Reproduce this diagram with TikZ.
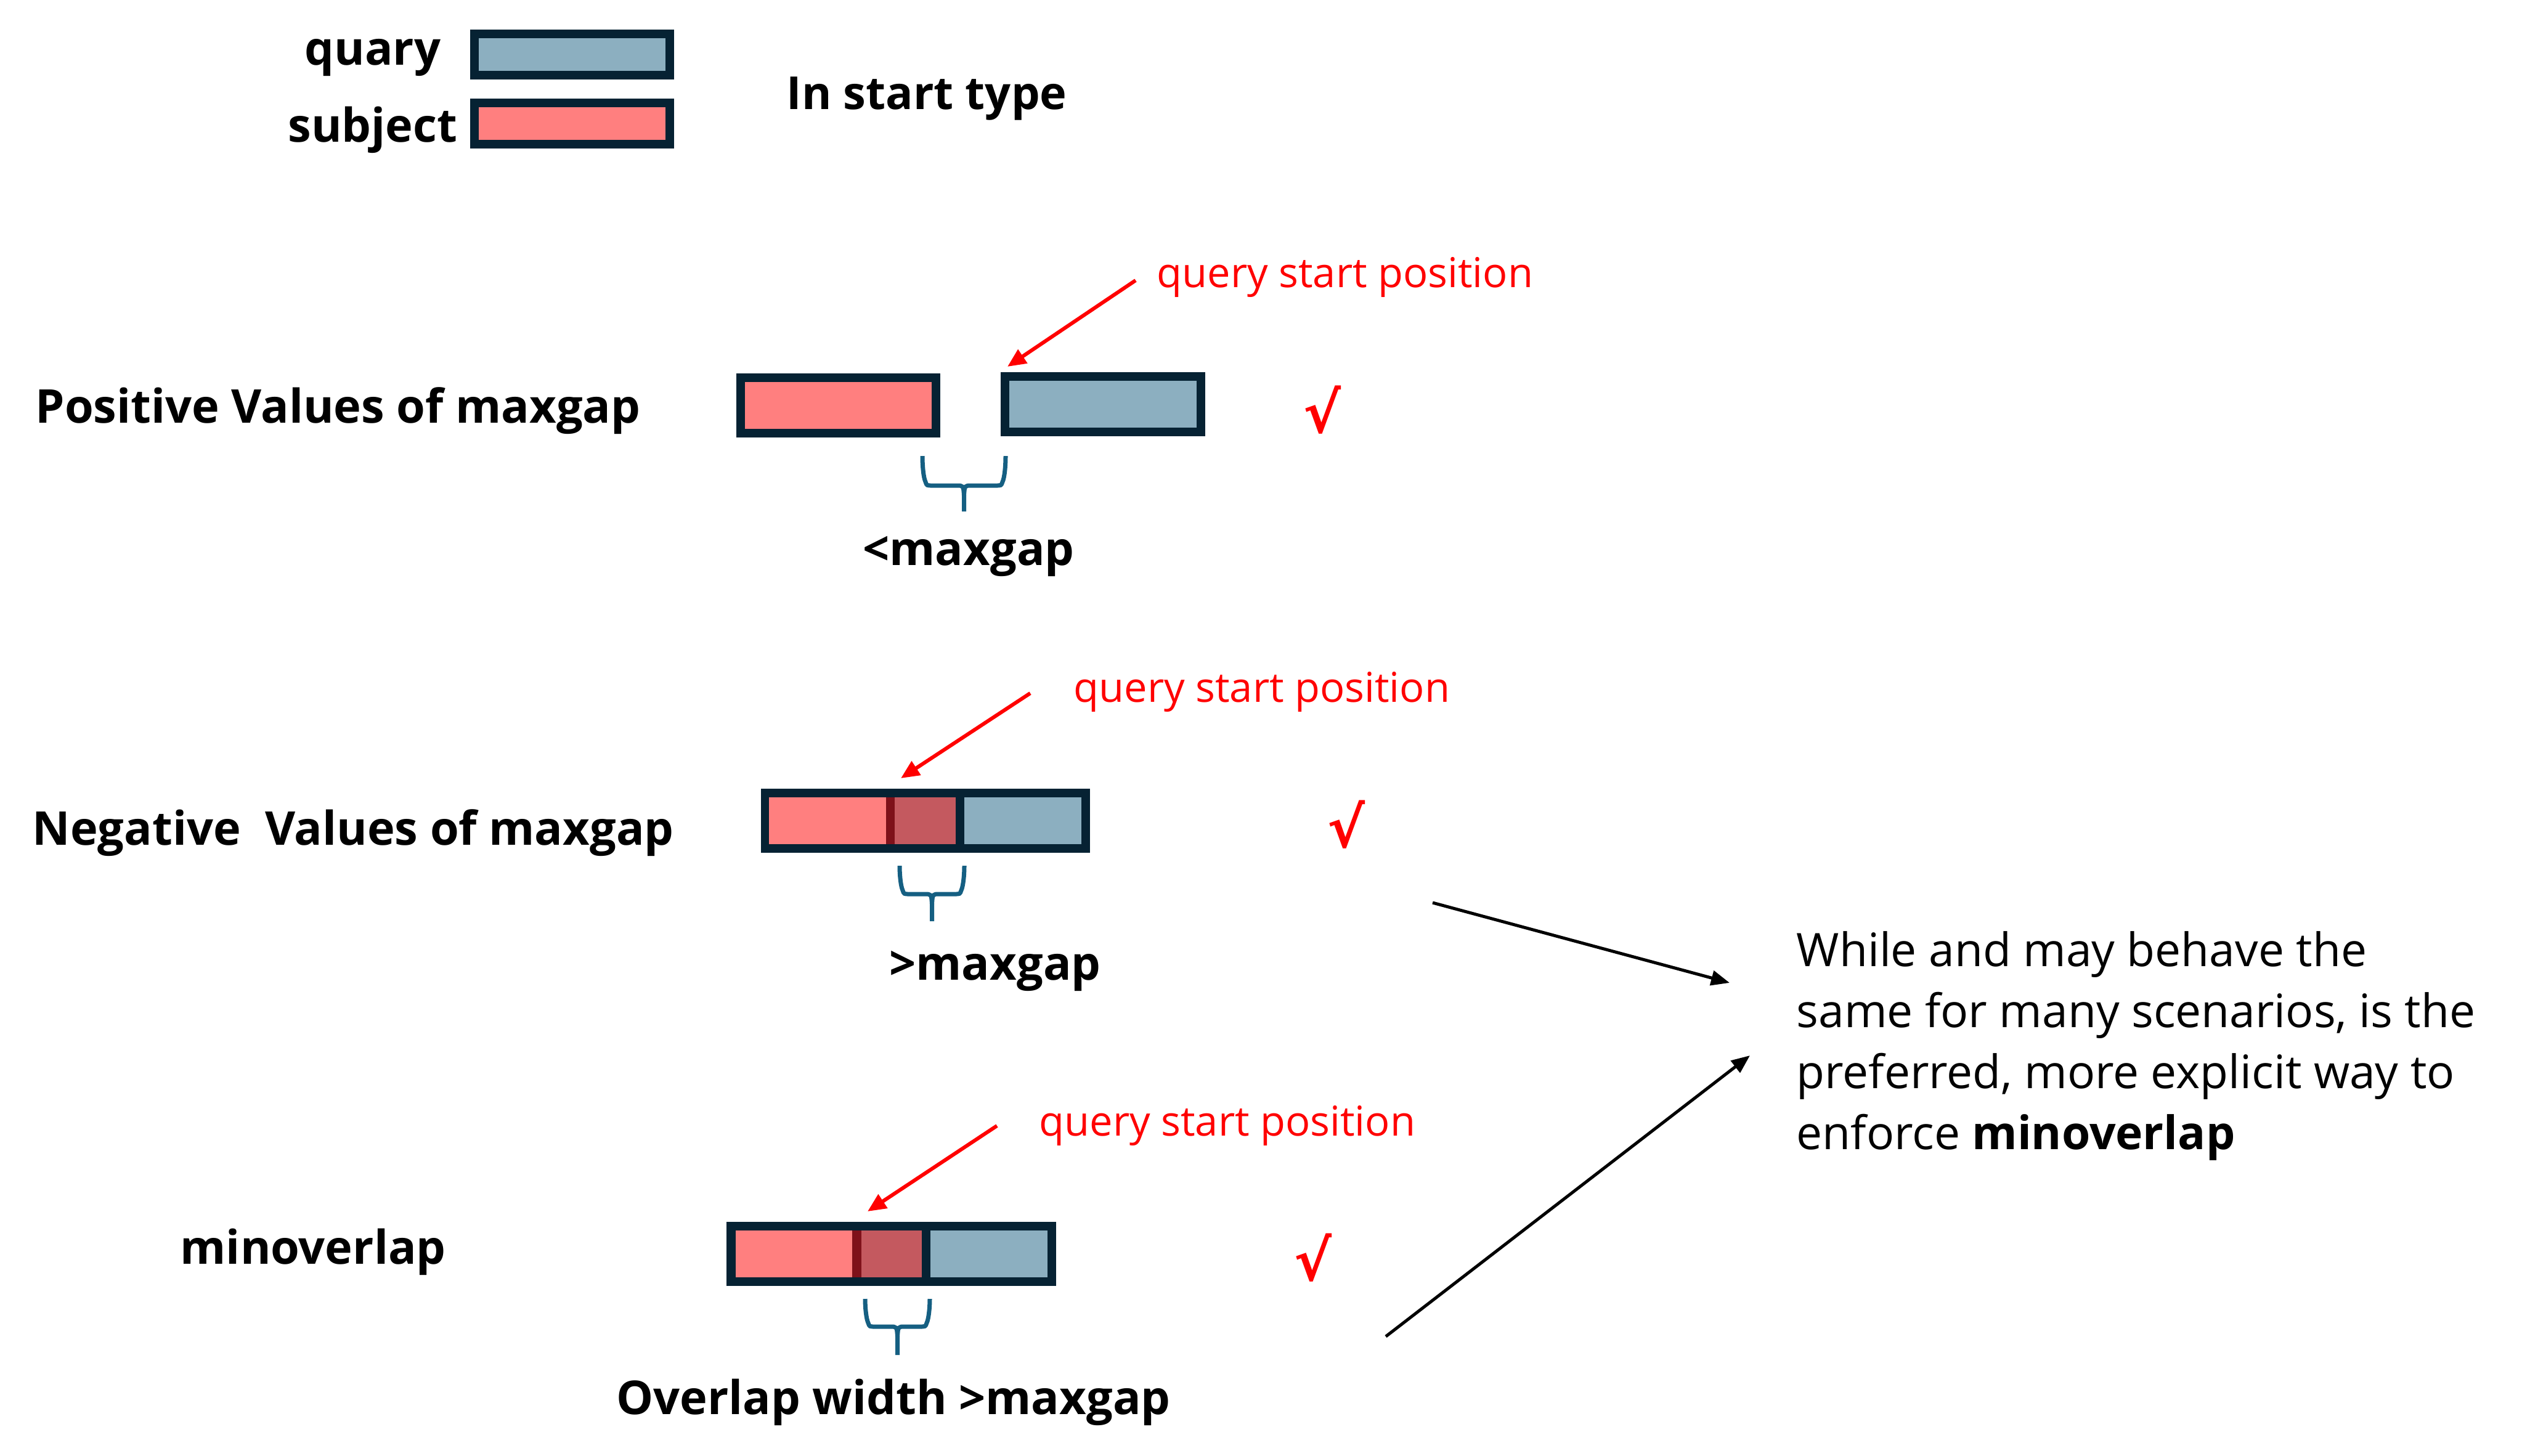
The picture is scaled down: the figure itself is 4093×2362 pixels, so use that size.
\documentclass[tikz,border=0pt]{standalone}
\usepackage{fontspec}
\setmainfont{Open Sans}
\newfontfamily\chkfont{DejaVu Sans}
\usetikzlibrary{arrows.meta}
\definecolor{bordc}{HTML}{062233}
\definecolor{subjc}{HTML}{FF7F7F}
\definecolor{quec}{HTML}{8CAFC0}
\definecolor{ovlc}{HTML}{C4595F}
\definecolor{ovlb}{HTML}{7F111A}
\definecolor{bracec}{HTML}{155F82}
\newcommand\mybrace[5]{%
  \draw[bracec, line width=0.07cm]
    ({#1},{#3}) .. controls ({#1},{#4-30}) and ({#1+2},{#4-12}) .. ({#1+5},{#4-6}) .. controls ({#1+7},{#4}) .. ({#1+16},{#4})
    -- ({(#1+#2)/2-12},{#4}) .. controls ({(#1+#2)/2-1},{#4}) .. ({(#1+#2)/2},{#4+16})
    -- ({(#1+#2)/2},{#5});
  \draw[bracec, line width=0.07cm]
    ({#2},{#3}) .. controls ({#2},{#4-30}) and ({#2-2},{#4-12}) .. ({#2-5},{#4-6}) .. controls ({#2-7},{#4}) .. ({#2-16},{#4})
    -- ({(#1+#2)/2+12},{#4}) .. controls ({(#1+#2)/2+1},{#4}) .. ({(#1+#2)/2},{#4+16});
}
\begin{document}
\begin{tikzpicture}[x=0.01cm,y=-0.01cm,
  bar/.style={draw=bordc, line width=0.14cm, inner sep=0pt, minimum width=3.17cm},
  lbl/.style={font=\fontsize{21.5}{26}\selectfont\bfseries, inner sep=0pt, anchor=base west},
  lblc/.style={font=\fontsize{21.5}{26}\selectfont\bfseries, inner sep=0pt, anchor=base},
  para/.style={font=\fontsize{21.3}{26}\selectfont, inner sep=0pt, anchor=base west},
  redtxt/.style={font=\fontsize{19}{23}\selectfont, text=red, inner sep=0pt, anchor=base west},
  chk/.style={font=\chkfont\bfseries\fontsize{26}{28}\selectfont, text=red, inner sep=0pt},
  redarr/.style={draw=red, line width=0.06cm, -{Triangle[length=0.3cm,width=0.26cm]}},
  blkarr/.style={draw=black, line width=0.05cm, -{Triangle[length=0.3cm,width=0.24cm]}}
]
\useasboundingbox (0,0) rectangle (4093,2362);

% legend
\node[lbl, anchor=base east] (lq) at (716,105) {quary};
\node[lbl, anchor=base east] (ls) at (743,230) {subject};
\node[bar, fill=quec, minimum height=0.67cm] (legq) at (928.5,88.5) {};
\node[bar, fill=subjc, minimum height=0.67cm] (legs) at (928.5,200.5) {};
\node[lbl, font=\fontsize{21}{26}\selectfont\bfseries] (title) at (1276,177) {In start type};

% row 1
\node[lbl] (r1lab) at (57,686) {Positive Values of maxgap};
\node[bar, fill=subjc, minimum height=0.90cm] (s1) at (1360.5,658) {};
\node[bar, fill=quec, minimum height=0.90cm] (q1) at (1790,656) {};
\node[redtxt] (qs1) at (1877,466) {query start position};
\coordinate (a1s) at (1843,455);
\coordinate (a1t) at (1635,595);
\draw[redarr] (a1s) -- (a1t);
\node[chk] (c1) at (2146,665) {√};
\mybrace{1497}{1632}{740}{788}{830}
\node[lblc] (g1) at (1572,917) {<maxgap};

% row 2
\node[lbl] (r2lab) at (52,1371) {Negative\ \ Values of maxgap};
\fill[bordc] (1235,1280) rectangle (1769,1384);
\fill[subjc] (1248,1294) rectangle (1438,1370);
\fill[ovlb] (1438,1294) rectangle (1452,1370);
\fill[ovlc] (1452,1294) rectangle (1551,1370);
\fill[quec] (1565,1294) rectangle (1755,1370);
\node[redtxt] (qs2) at (1742,1139) {query start position};
\coordinate (a2s) at (1672,1125);
\coordinate (a2t) at (1462,1263);
\draw[redarr] (a2s) -- (a2t);
\node[chk] (c2) at (2185,1338) {√};
\mybrace{1460}{1565}{1405}{1451}{1495}
\node[lblc] (g2) at (1615,1590) {>maxgap};

% row 3
\node[lbl] (r3lab) at (292,2051) {minoverlap};
\fill[bordc] (1179,1983) rectangle (1714,2087);
\fill[subjc] (1194,1997) rectangle (1383,2073);
\fill[ovlb] (1383,1997) rectangle (1398,2073);
\fill[ovlc] (1398,1997) rectangle (1496,2073);
\fill[quec] (1510,1997) rectangle (1700,2073);
\node[redtxt] (qs3) at (1686,1843) {query start position};
\coordinate (a3s) at (1618,1827);
\coordinate (a3t) at (1408,1966);
\draw[redarr] (a3s) -- (a3t);
\node[chk] (c3) at (2131,2041) {√};
\mybrace{1404}{1509}{2108}{2153}{2199}
\node[lblc] (g3) at (1450,2295) {Overlap width >maxgap};

% paragraph
\node[para] (p1) at (2915,1568) {While and may behave the};
\node[para] (p2) at (2915,1667) {same for many scenarios, is the};
\node[para] (p3) at (2915,1766) {preferred, more explicit way to};
\node[para] (p4) at (2915,1865) {enforce \textbf{minoverlap}};

\coordinate (b1s) at (2325,1465);
\coordinate (b1t) at (2807,1595);
\coordinate (b2s) at (2249,2169);
\coordinate (b2t) at (2840,1713);
\draw[blkarr] (b1s) -- (b1t);
\draw[blkarr] (b2s) -- (b2t);
\end{tikzpicture}
\end{document}
